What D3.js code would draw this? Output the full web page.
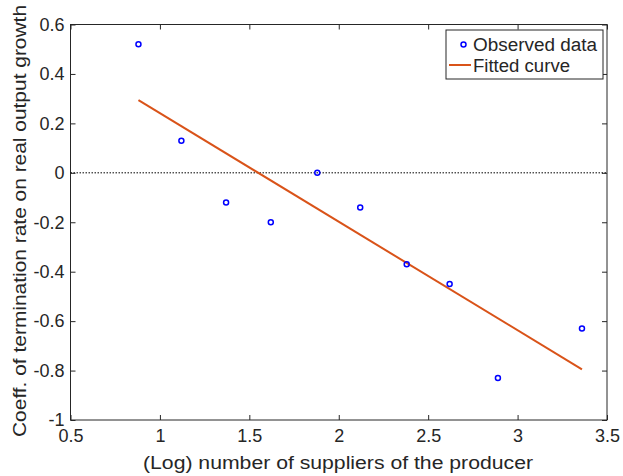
<!DOCTYPE html>
<html>
<head>
<meta charset="utf-8">
<script src="https://cdn.jsdelivr.net/npm/d3@7"></script>
<style>
  body { margin: 0; background: #fff; }
  text { font-family: "Liberation Sans", Arial, sans-serif; fill: #262626; }
</style>
</head>
<body>
<svg id="chart" width="623" height="476"></svg>
<script>
// observed data
var obsX = [0.88, 1.12, 1.37, 1.62, 1.88, 2.12, 2.38, 2.62, 2.89, 3.36];
var obsY = [0.52, 0.13, -0.12, -0.20, 0.00, -0.14, -0.37, -0.45, -0.83, -0.63];
// fitted line end points
var fitX = [0.88, 3.36];
var fitY = [0.294, -0.795];
var xTicks = [0.5, 1, 1.5, 2, 2.5, 3, 3.5];
var yTicks = [-1, -0.8, -0.6, -0.4, -0.2, 0, 0.2, 0.4, 0.6];

var margin = {top: 24.5, right: 16, bottom: 56, left: 70.5},
  width = 623, height = 476,
  iw = width - margin.left - margin.right,
  ih = height - margin.top - margin.bottom,
  axisColor = "#262626";

var svg = d3.select("#chart");
var g = svg.append("g").attr("transform", "translate(" + margin.left + "," + margin.top + ")");

var x = d3.scaleLinear().domain([0.5, 3.5]).range([0, iw]);
var y = d3.scaleLinear().domain([-1, 0.6]).range([ih, 0]);

var fmt = function(d) { return d === 0 ? "0" : String(d); };

// axes, ticks pointing inwards (box style)
function styleAxis(sel) {
  sel.select(".domain").remove();
  sel.selectAll("line").attr("stroke", axisColor);
  sel.selectAll("text").style("font-size", "18px").attr("fill", axisColor);
}
g.append("g").attr("transform", "translate(0," + ih + ")")
  .call(d3.axisBottom(x).tickValues(xTicks).tickFormat(fmt).tickSizeInner(-5).tickSizeOuter(0).tickPadding(9))
  .call(styleAxis);
g.append("g")
  .call(d3.axisTop(x).tickValues(xTicks).tickFormat("").tickSizeInner(-5).tickSizeOuter(0))
  .call(styleAxis);
g.append("g")
  .call(d3.axisLeft(y).tickValues(yTicks).tickFormat(fmt).tickSizeInner(-5).tickSizeOuter(0).tickPadding(6))
  .call(styleAxis);
g.append("g").attr("transform", "translate(" + iw + ",0)")
  .call(d3.axisRight(y).tickValues(yTicks).tickFormat("").tickSizeInner(-5).tickSizeOuter(0))
  .call(styleAxis);

g.append("rect")
  .attr("width", iw).attr("height", ih)
  .attr("fill", "none").attr("stroke", axisColor).attr("stroke-width", 1);

// zero reference line
g.append("line")
  .attr("x1", x(0.5)).attr("x2", x(3.5))
  .attr("y1", y(0)).attr("y2", y(0))
  .attr("stroke", "#000").attr("stroke-width", 1).attr("stroke-dasharray", "1.5,1.5");

// fitted curve
var line = d3.line().x(function(d) { return x(d[0]); }).y(function(d) { return y(d[1]); });
g.append("path")
  .datum(d3.zip(fitX, fitY))
  .attr("d", line)
  .attr("fill", "none").attr("stroke", "#d95319").attr("stroke-width", 2);

// observed points
g.selectAll("circle.obs")
  .data(d3.zip(obsX, obsY))
  .enter().append("circle")
  .attr("class", "obs")
  .attr("cx", function(d) { return x(d[0]); })
  .attr("cy", function(d) { return y(d[1]); })
  .attr("r", 2.5)
  .attr("fill", "none").attr("stroke", "#0000ff").attr("stroke-width", 1.5);

// legend
var lg = svg.append("g").attr("transform", "translate(446,30)");
lg.append("rect").attr("width", 157).attr("height", 49)
  .attr("fill", "#fff").attr("stroke", axisColor).attr("stroke-width", 1);
lg.append("circle").attr("cx", 17.5).attr("cy", 14.5).attr("r", 2.5)
  .attr("fill", "none").attr("stroke", "#0000ff").attr("stroke-width", 1.5);
lg.append("text").attr("x", 27).attr("y", 21).style("font-size", "18px")
  .attr("textLength", 124).attr("lengthAdjust", "spacingAndGlyphs").text("Observed data");
lg.append("line").attr("x1", 3).attr("x2", 25).attr("y1", 35).attr("y2", 35)
  .attr("stroke", "#d95319").attr("stroke-width", 2);
lg.append("text").attr("x", 27).attr("y", 41.5).style("font-size", "18px")
  .attr("textLength", 97).attr("lengthAdjust", "spacingAndGlyphs").text("Fitted curve");

// axis labels
svg.append("text")
  .attr("x", 338).attr("y", 469)
  .attr("text-anchor", "middle").style("font-size", "18px")
  .attr("textLength", 390).attr("lengthAdjust", "spacingAndGlyphs")
  .text("(Log) number of suppliers of the producer");
svg.append("text")
  .attr("transform", "translate(26,221) rotate(-90)")
  .attr("text-anchor", "middle").style("font-size", "18px")
  .attr("textLength", 432).attr("lengthAdjust", "spacingAndGlyphs")
  .text("Coeff. of termination rate on real output growth");
</script>
</body>
</html>
